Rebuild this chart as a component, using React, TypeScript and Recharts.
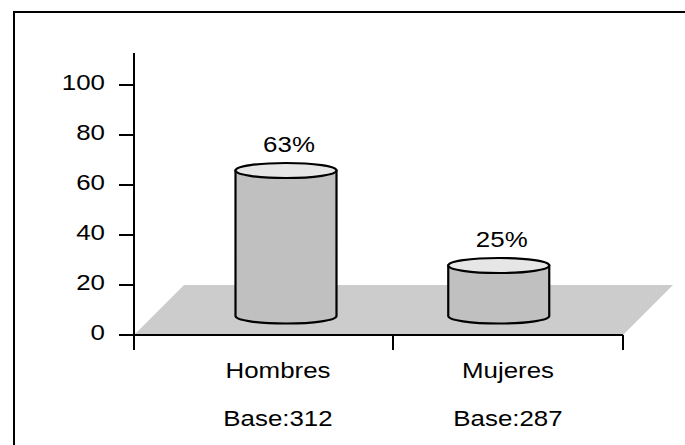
import { BarChart, Bar, XAxis, YAxis, ReferenceArea } from "recharts";

// ── Datos ─────────────────────────────────────────────────────────────────
const categorias = ["Hombres", "Mujeres"];
const porcentajes = [63, 25];
const bases = [312, 287];
const yTicks = [0, 20, 40, 60, 80, 100];

const data = categorias.map((name, i) => ({ name, valor: porcentajes[i], base: bases[i] }));

// ── Layout ────────────────────────────────────────────────────────────────
const W = 685;
const H = 445;
const Y_AXIS_W = 134;
const MARGIN_RIGHT = 62;
const PAD_LEFT = 29;
const PLOT_CENTER = (Y_AXIS_W + (W - MARGIN_RIGHT)) / 2;
const PERSPECTIVE = -0.075; // bars pulled toward the centre (3d look)
const STRETCH = 1.15; // the original text is wide
const FONT = "'Liberation Sans', Arial, sans-serif";
const FONT_SIZE = 22.5;

function WideText({ x, y, anchor, children }: any) {
    return (
        <g transform={`translate(${x},${y}) scale(${STRETCH},1)`}>
            <text x={0} y={0} textAnchor={anchor} fontFamily={FONT} fontSize={FONT_SIZE} fill="#000">
                {children}
            </text>
        </g>
    );
}

function YTick({ x, y, payload }: any) {
    return <WideText x={x} y={y + 5} anchor="end">{payload.value}</WideText>;
}

function XTick({ x, y, payload, index }: any) {
    const half = payload.offset ?? 115;
    const d = data[index];
    return (
        <g>
            {index === 0 && <line x1={Y_AXIS_W} x2={Y_AXIS_W} y1={y - 15} y2={y} stroke="#000" strokeWidth={2} />}
            <line x1={x + half} x2={x + half} y1={y - 15} y2={y} stroke="#000" strokeWidth={2} />
            <WideText x={x} y={y + 28} anchor="middle">{payload.value}</WideText>
            <WideText x={x} y={y + 76} anchor="middle">{`Base:${d ? d.base : ""}`}</WideText>
        </g>
    );
}

function Floor({ x, y, width, height }: any) {
    const left = Math.min(x, Y_AXIS_W);
    const right = x + width;
    const pts = [
        [left, y + height],
        [right, y + height],
        [right + height, y],
        [left + height, y],
    ]
        .map((p) => p.join(","))
        .join(" ");
    return <polygon points={pts} fill="#cccccc" stroke="none" />;
}

function Cylinder(props: any) {
    const { x, y, width, height, payload } = props;
    const center = x + width / 2;
    const cx = center + (center - PLOT_CENTER) * PERSPECTIVE;
    const rx = width / 2;
    const ry = 7.5;
    const top = y - 7;
    const bottom = y + height - 19;
    return (
        <g>
            <path
                d={`M${cx - rx},${top} L${cx - rx},${bottom} A${rx},${ry} 0 0 0 ${cx + rx},${bottom} L${cx + rx},${top} Z`}
                fill="#c0c0c0"
                stroke="#000"
                strokeWidth={2.2}
            />
            <ellipse cx={cx} cy={top} rx={rx} ry={ry} fill="#e6e6e6" stroke="#000" strokeWidth={2.2} />
            <WideText x={cx + 3} y={y - 26} anchor="middle">{`${payload.valor}%`}</WideText>
        </g>
    );
}

export default function App() {
    return (
        <div style={{ position: "fixed", left: 0, top: 0, width: W, height: H, overflow: "hidden", background: "#fff" }}>
            <div
                style={{
                    position: "absolute",
                    left: 13,
                    top: 11,
                    width: 720,
                    height: 480,
                    border: "2px solid #000",
                }}
            />
            <div style={{ position: "absolute", left: 0, top: 0 }}>
                <BarChart width={W} height={H} data={data} margin={{ top: 53, right: MARGIN_RIGHT, bottom: 0, left: 0 }}>
                    <XAxis
                        dataKey="name"
                        height={110}
                        padding={{ left: PAD_LEFT, right: 0 }}
                        axisLine={{ stroke: "#000", strokeWidth: 2 }}
                        tickLine={false}
                        tickSize={15}
                        tickMargin={0}
                        interval={0}
                        tick={<XTick />}
                    />
                    <YAxis
                        type="number"
                        domain={[0, 112.8]}
                        ticks={yTicks}
                        width={Y_AXIS_W}
                        interval={0}
                        allowDataOverflow
                        axisLine={{ stroke: "#000", strokeWidth: 2 }}
                        tickLine={{ stroke: "#000", strokeWidth: 2 }}
                        tickSize={15}
                        tickMargin={14}
                        tick={<YTick />}
                    />
                    <ReferenceArea y1={0} y2={20} shape={<Floor />} ifOverflow="visible" />
                    <Bar dataKey="valor" barSize={101} isAnimationActive={false} shape={<Cylinder />} />
                </BarChart>
            </div>
        </div>
    );
}
